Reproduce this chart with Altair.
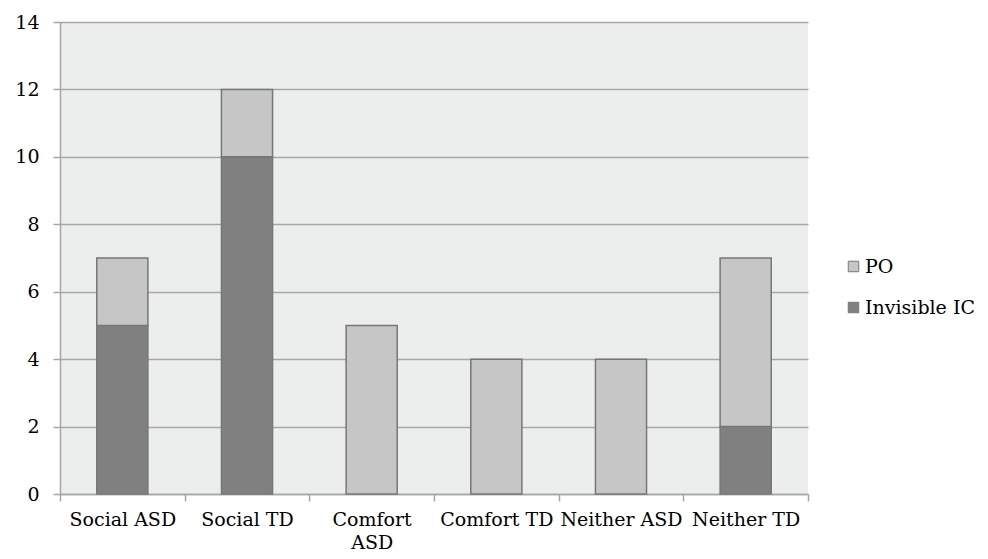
import altair as alt
import pandas as pd

categories = ["Social ASD", "Social TD", "Comfort ASD", "Comfort TD", "Neither ASD", "Neither TD"]
invisible_ic = [5, 10, 0, 0, 0, 2]
po = [2, 2, 5, 4, 4, 5]
series = ["PO", "Invisible IC"]
colors = ["#c6c6c6", "#808080"]
y_ticks = [0, 2, 4, 6, 8, 10, 12, 14]

rows = []
for c, ic, p in zip(categories, invisible_ic, po):
    if ic > 0:
        rows.append({"cat": c, "series": "Invisible IC", "value": ic, "ord": 0})
    if p > 0:
        rows.append({"cat": c, "series": "PO", "value": p, "ord": 1})
df = pd.DataFrame(rows)

FONT = "DejaVu Serif"
FS = 19

chart = alt.Chart(df).mark_bar(
    width=alt.RelativeBandSize(0.41),
    stroke="#777777",
    strokeWidth=1.5,
).encode(
    x=alt.X("cat:N", sort=categories, title=None,
            scale=alt.Scale(paddingInner=0, paddingOuter=0),
            axis=alt.Axis(labelAngle=0, tickBand="extent", tickSize=7,
                          labelPadding=9, labelFontSize=FS, labelFont=FONT,
                          labelColor="#000000", domainColor="#a6a6a6",
                          tickColor="#a6a6a6", domainWidth=1.5, tickWidth=1.5,
                          labelLimit=200, labelLineHeight=23,
                          labelExpr="datum.label == 'Comfort ASD' ? ['Comfort', 'ASD'] : datum.label")),
    y=alt.Y("value:Q", stack="zero", title=None,
            scale=alt.Scale(domain=[0, 14], nice=False),
            axis=alt.Axis(values=y_ticks, tickSize=7, labelPadding=14,
                          labelFontSize=FS, labelFont=FONT, labelColor="#000000",
                          domainColor="#a6a6a6", tickColor="#a6a6a6",
                          gridColor="#a6a6a6", gridWidth=1.5,
                          domainWidth=1.5, tickWidth=1.5)),
    color=alt.Color("series:N", title=None,
                    scale=alt.Scale(domain=series, range=colors),
                    legend=alt.Legend(orient="none", legendX=784, legendY=235,
                                      symbolType="square", symbolSize=110,
                                      symbolStrokeColor="#777777", symbolStrokeWidth=1,
                                      labelFont=FONT, labelFontSize=FS,
                                      labelColor="#000000", rowPadding=21,
                                      labelOffset=2, padding=0)),
    order=alt.Order("ord:Q"),
).properties(
    width=748,
    height=472,
    autosize=alt.AutoSizeParams(type="none"),
    padding={"left": 52, "top": 14, "right": 172, "bottom": 65},
).configure(
    background="#ffffff",
    view=alt.ViewConfig(fill="#eceeee", stroke=None),
)

chart.save("out.html", embed_options={"renderer": "svg", "actions": False})
